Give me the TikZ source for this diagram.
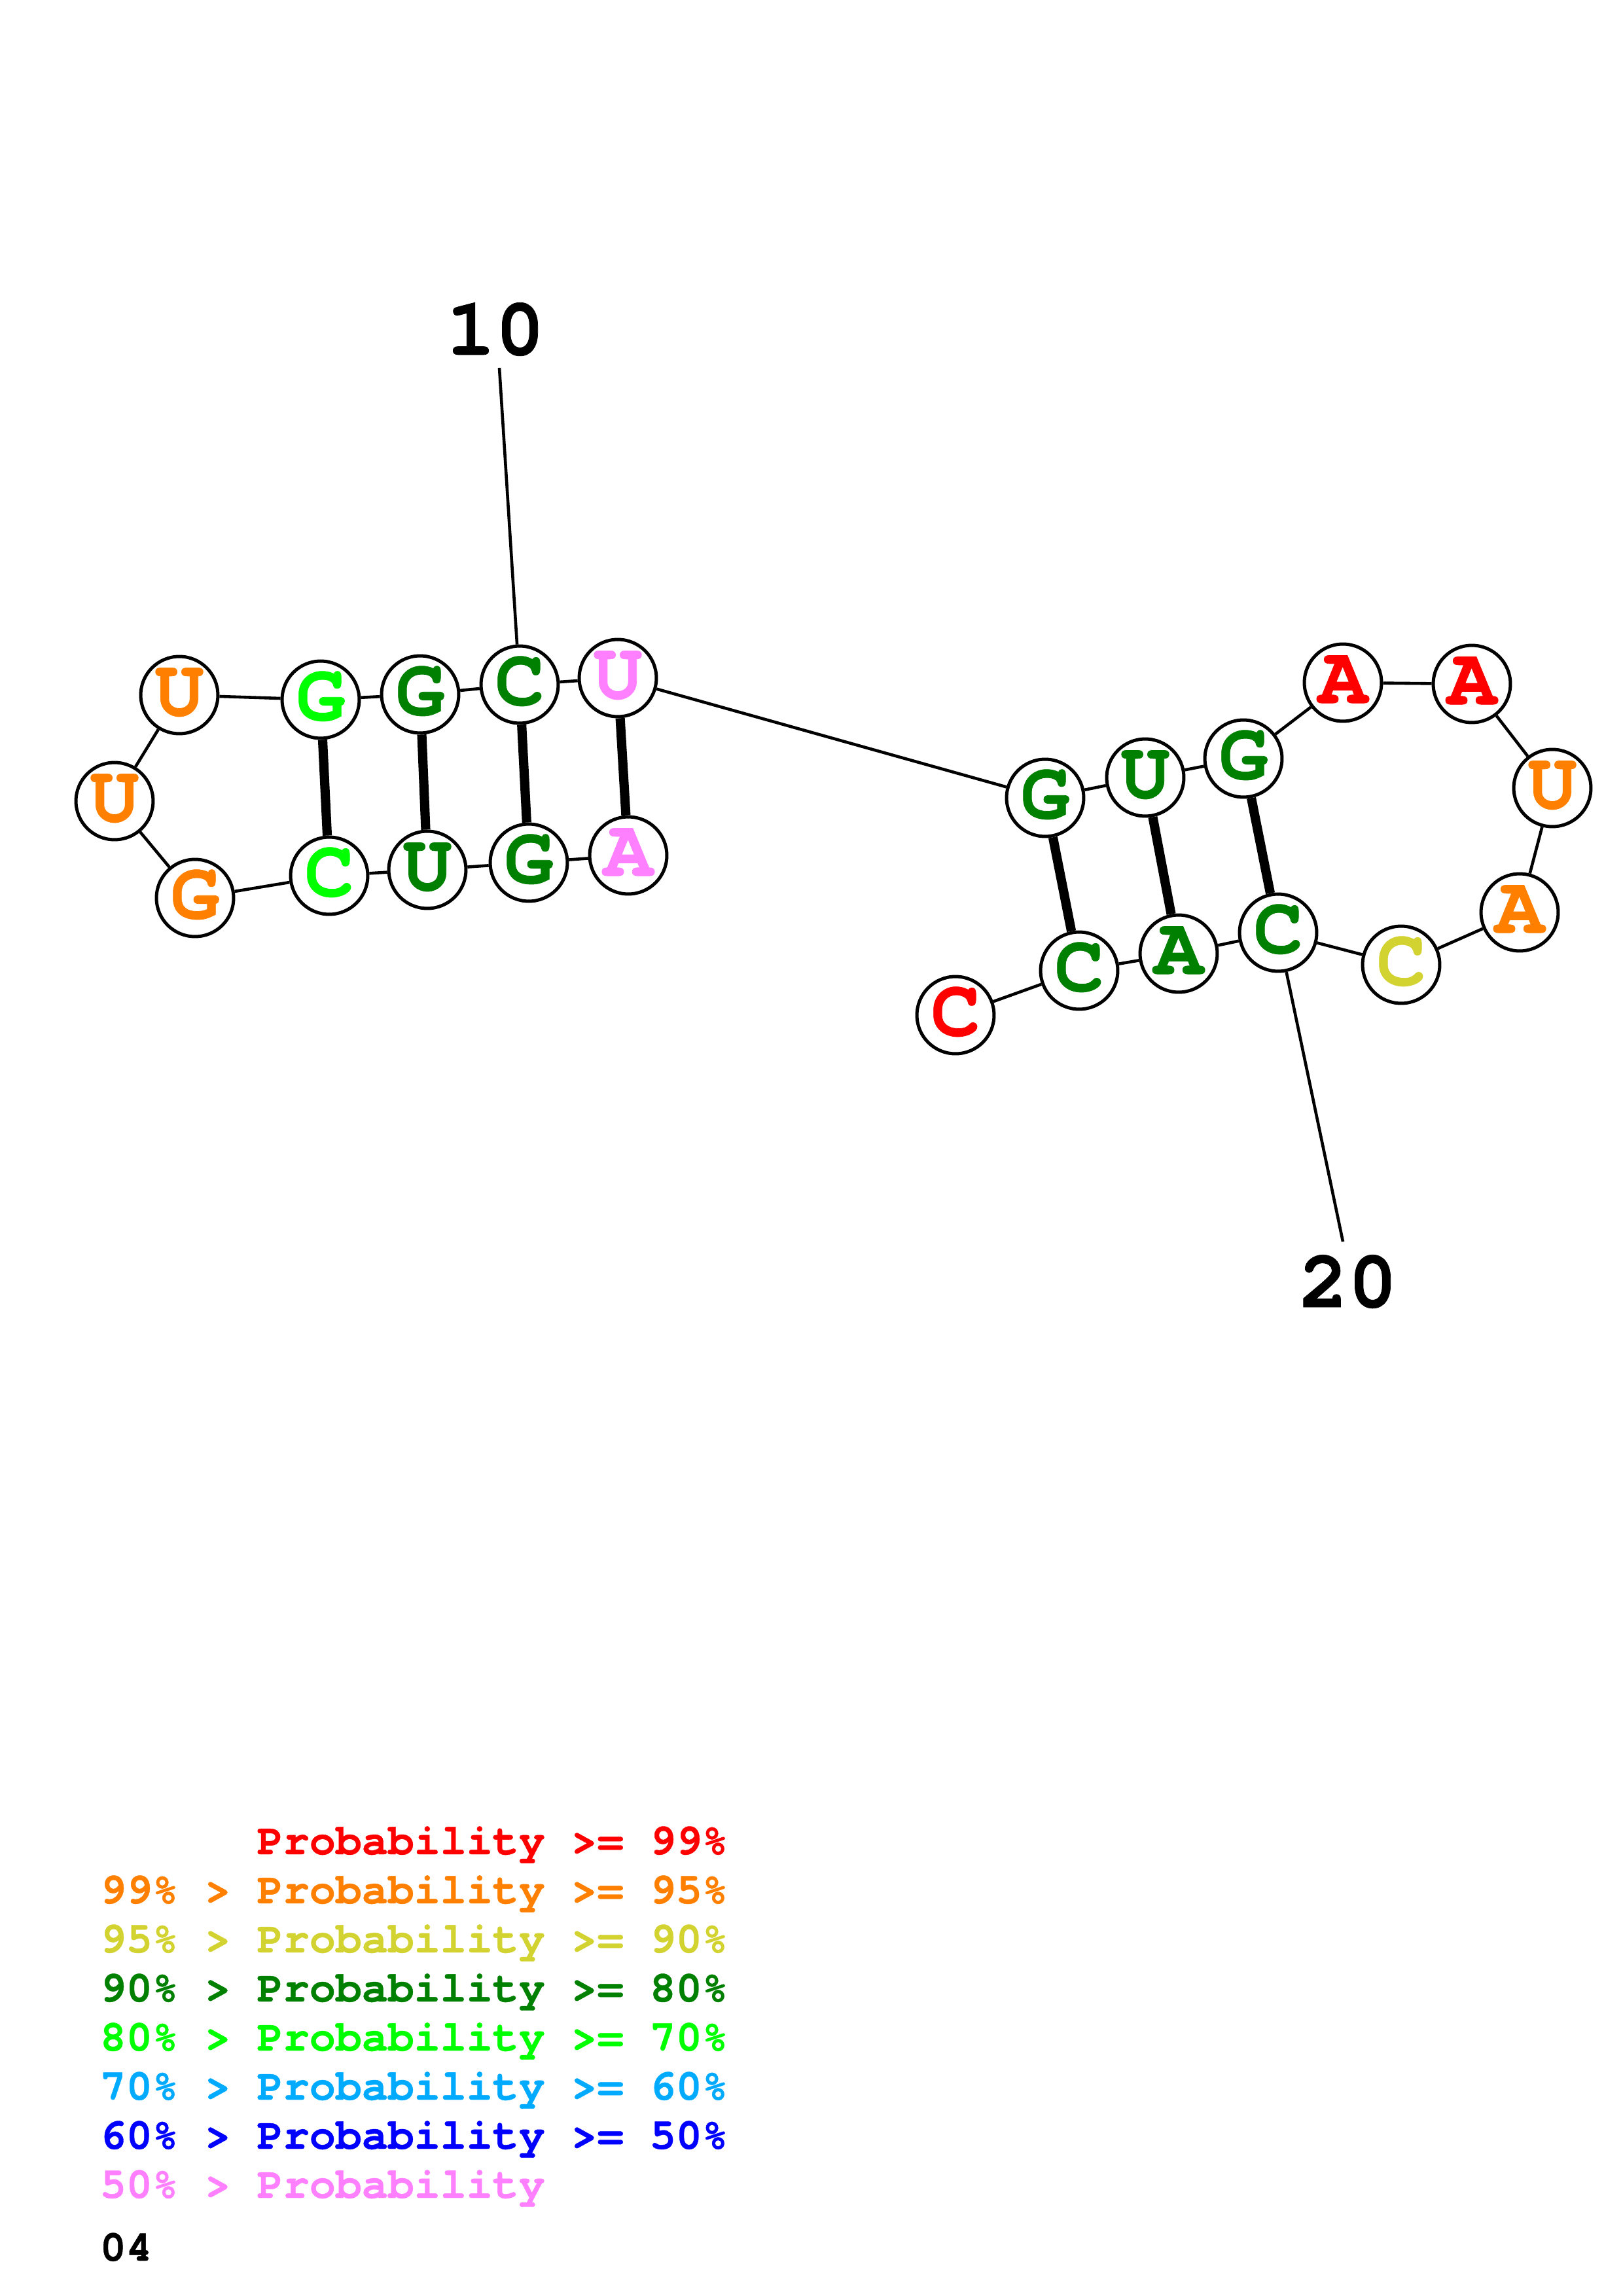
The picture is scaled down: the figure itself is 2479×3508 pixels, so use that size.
\documentclass[tikz,border=0pt]{standalone}
\usepackage{fontspec}
\newfontfamily\cur{TeX Gyre Cursor}[BoldFeatures={FakeBold=0.6}]
\definecolor{pRed}{RGB}{255,0,0}
\definecolor{pOrange}{RGB}{255,128,0}
\definecolor{pYellow}{RGB}{210,210,48}
\definecolor{pDkGreen}{RGB}{0,128,0}
\definecolor{pGreen}{RGB}{0,255,0}
\definecolor{pLtBlue}{RGB}{0,170,255}
\definecolor{pBlue}{RGB}{0,0,255}
\definecolor{pPink}{RGB}{255,128,255}
\begin{document}
\begin{tikzpicture}[x=0.24pt,y=-0.24pt,
  nt/.style={circle,draw=black,fill=white,line width=1.2pt,minimum size=28.3pt,inner sep=0pt,
    font=\cur\bfseries\fontsize{30}{36}\selectfont,text height=17pt,text depth=2pt},
  bb/.style={line width=1.1pt},
  bp/.style={line width=3.4pt},
  numlab/.style={font=\cur\bfseries\fontsize{30}{36}\selectfont,anchor=base,inner sep=0pt},
  leg/.style={font=\cur\bfseries\fontsize{16}{19}\selectfont,anchor=base west,inner sep=0pt}]
\useasboundingbox (0,0) rectangle (2479,3508);
% nucleotides
\node[nt,text=pPink]    (n1)  at (960,1307)  {A};
\node[nt,text=pDkGreen] (n2)  at (808,1318)  {G};
\node[nt,text=pDkGreen] (n3)  at (653,1329)  {U};
\node[nt,text=pGreen]   (n4)  at (503,1338)  {C};
\node[nt,text=pOrange]  (n5)  at (298,1372)  {G};
\node[nt,text=pOrange]  (n6)  at (175,1224)  {U};
\node[nt,text=pOrange]  (n7)  at (274,1062)  {U};
\node[nt,text=pGreen]   (n8)  at (490,1069)  {G};
\node[nt,text=pDkGreen] (n9)  at (642,1061)  {G};
\node[nt,text=pDkGreen] (n10) at (794,1046)  {C};
\node[nt,text=pPink]    (n11) at (944,1036)  {U};
\node[nt,text=pDkGreen] (n12) at (1597,1219) {G};
\node[nt,text=pDkGreen] (n13) at (1750,1188) {U};
\node[nt,text=pDkGreen] (n14) at (1900,1159) {G};
\node[nt,text=pRed]     (n15) at (2052,1043) {A};
\node[nt,text=pRed]     (n16) at (2249,1045) {A};
\node[nt,text=pOrange]  (n17) at (2372,1204) {U};
\node[nt,text=pOrange]  (n18) at (2322,1394) {A};
\node[nt,text=pYellow]  (n19) at (2141,1474) {C};
\node[nt,text=pDkGreen] (n20) at (1953,1425) {C};
\node[nt,text=pDkGreen] (n21) at (1801,1457) {A};
\node[nt,text=pDkGreen] (n22) at (1649,1483) {C};
\node[nt,text=pRed]     (n23) at (1460,1551) {C};
% backbone
\foreach \a/\b in {n1/n2,n2/n3,n3/n4,n4/n5,n5/n6,n6/n7,n7/n8,n8/n9,n9/n10,n10/n11,n11/n12,n12/n13,n13/n14,n14/n15,n15/n16,n16/n17,n17/n18,n18/n19,n19/n20,n20/n21,n21/n22,n22/n23}
  \draw[bb] (\a) -- (\b);
% base pairs
\foreach \a/\b in {n8/n4,n9/n3,n10/n2,n11/n1,n12/n22,n13/n21,n14/n20}
  \draw[bp] (\a) -- (\b);
% position labels
\node[numlab] (l10) at (757,542) {10};
\coordinate (t10) at (763,562);
\draw[bb] (t10) -- (n10);
\node[numlab] (l20) at (2060,1997) {20};
\coordinate (t20) at (2052,1897);
\draw[bb] (n20) -- (t20);
% legend
\node[leg,text=pRed]     (g1) at (392,2833) {Probability >= 99\%};
\node[leg,text=pOrange]  (g2) at (152,2908) {99\% > Probability >= 95\%};
\node[leg,text=pYellow]  (g3) at (152,2983) {95\% > Probability >= 90\%};
\node[leg,text=pDkGreen] (g4) at (152,3058) {90\% > Probability >= 80\%};
\node[leg,text=pGreen]   (g5) at (152,3133) {80\% > Probability >= 70\%};
\node[leg,text=pLtBlue]  (g6) at (152,3208) {70\% > Probability >= 60\%};
\node[leg,text=pBlue]    (g7) at (152,3283) {60\% > Probability >= 50\%};
\node[leg,text=pPink]    (g8) at (152,3358) {50\% > Probability};
\node[leg,text=black]    (g9) at (152,3454) {04};
\end{tikzpicture}
\end{document}
